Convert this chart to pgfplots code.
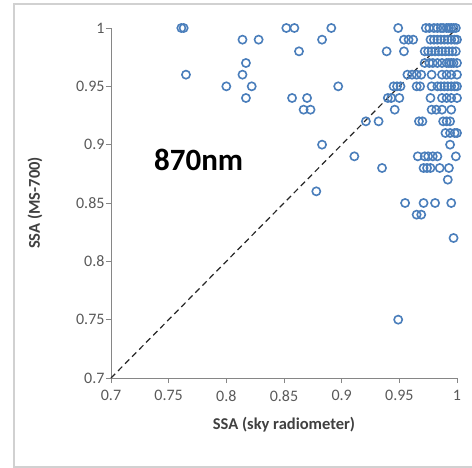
\documentclass[border=0pt]{standalone}
\usepackage{fontspec}
\setmainfont{Carlito}
\usepackage{pgfplots}
\pgfplotsset{compat=1.18}
\definecolor{ptblue}{RGB}{74,126,187}
\definecolor{axgray}{RGB}{134,134,134}
\definecolor{txtgray}{RGB}{89,89,89}
\definecolor{lblgray}{RGB}{64,64,64}
\begin{document}
\begin{tikzpicture}
\begin{axis}[
  at={(111bp,90bp)}, anchor=south west,
  width=346bp, height=350bp, scale only axis,
  xmin=0.7, xmax=1, ymin=0.7, ymax=1,
  axis lines=left,
  axis line style={-, draw=axgray, line width=0.8bp},
  xtick={0.7,0.75,0.8,0.85,0.9,0.95,1},
  ytick={0.7,0.75,0.8,0.85,0.9,0.95,1},
  xticklabels={0.7,0.75,0.8,0.85,0.9,0.95,1},
  yticklabels={0.7,0.75,0.8,0.85,0.9,0.95,1},
  tick align=outside,
  major tick length=5bp,
  tick style={draw=axgray, line width=0.8bp},
  tick label style={font=\fontsize{16bp}{18bp}\selectfont, text=txtgray},
  xticklabel style={yshift=-4bp},
  yticklabel style={xshift=2bp},
  /pgf/number format/assume math mode=true,
  xlabel={SSA (sky radiometer)},
  ylabel={SSA (MS-700)},
  label style={font=\bfseries\fontsize{16.5bp}{18bp}\selectfont, text=lblgray},
  xlabel style={at={(axis description cs:0.5,-0.134)}, anchor=center},
  ylabel style={at={(axis description cs:-0.22,0.5)}, anchor=center},
  clip=false,
]
\addplot[black!85, dash pattern=on 6bp off 4bp, line width=1.2bp] coordinates {(0.7,0.7) (1,1)};
\addplot[only marks, mark=o, mark size=4.1bp, mark options={draw=ptblue, line width=1.6bp}] coordinates {
(0.761,1.00) (0.763,1.00) (0.765,0.96) (0.800,0.95) (0.814,0.99) (0.814,0.96)
(0.817,0.97) (0.817,0.94) (0.822,0.95) (0.828,0.99) (0.852,1.00) (0.859,1.00)
(0.891,1.00) (0.883,0.99) (0.863,0.98) (0.897,0.95) (0.857,0.94) (0.870,0.94)
(0.867,0.93) (0.873,0.93) (0.883,0.90) (0.878,0.86) (0.911,0.89) (0.921,0.92)
(0.932,0.92) (0.935,0.88) (0.939,0.98) (0.940,0.94) (0.949,0.75)
(0.949,1.00) (0.973,1.00) (0.976,1.00) (0.980,1.00) (0.983,1.00) (0.986,1.00) (0.988,1.00)
(0.991,1.00) (0.993,1.00) (0.995,1.00) (0.997,1.00) (0.999,1.00)
(0.954,0.99) (0.958,0.99) (0.962,0.99) (0.977,0.99) (0.980,0.99) (0.983,0.99) (0.986,0.99)
(0.989,0.99) (0.992,0.99) (0.995,0.99) (0.998,0.99) (1.000,0.99)
(0.954,0.98) (0.972,0.98) (0.975,0.98) (0.978,0.98) (0.981,0.98) (0.984,0.98) (0.987,0.98)
(0.990,0.98) (0.993,0.98) (0.996,0.98) (0.999,0.98)
(0.972,0.97) (0.976,0.97) (0.979,0.97) (0.983,0.97) (0.987,0.97) (0.991,0.97) (0.993,0.97)
(0.995,0.97) (0.997,0.97) (1.000,0.97)
(0.957,0.96) (0.961,0.96) (0.965,0.96) (0.969,0.96) (0.978,0.96) (0.987,0.96) (0.991,0.96)
(0.995,0.96) (1.000,0.96)
(0.945,0.95) (0.948,0.95) (0.951,0.95) (0.965,0.95) (0.968,0.95) (0.978,0.95) (0.983,0.95)
(0.986,0.95) (0.989,0.95) (0.992,0.95) (0.995,0.95) (0.998,0.95) (1.000,0.95)
(0.943,0.94) (0.950,0.94) (0.977,0.94) (0.987,0.94) (0.991,0.94) (0.995,0.94) (1.000,0.94)
(0.946,0.93) (0.978,0.93) (0.982,0.93) (0.987,0.93) (0.995,0.93)
(0.967,0.92) (0.970,0.92) (0.988,0.92) (0.991,0.92) (0.994,0.92)
(0.990,0.91) (0.994,0.91) (0.998,0.91) (1.000,0.91)
(0.994,0.90)
(0.966,0.89) (0.972,0.89) (0.975,0.89) (0.979,0.89) (0.983,0.89) (0.999,0.89)
(0.971,0.88) (0.974,0.88) (0.977,0.88) (0.985,0.88) (0.993,0.88)
(0.992,0.87)
(0.955,0.85) (0.971,0.85) (0.981,0.85) (0.995,0.85)
(0.965,0.84) (0.969,0.84)
(0.997,0.82)
};
\node[font=\bfseries\fontsize{31bp}{34bp}\selectfont, text=black] at (axis cs:0.776,0.887) {870nm};
\end{axis}
\draw[black!18, line width=1.8bp] (14bp,1bp) rectangle (490bp,464bp);
\pgfresetboundingbox
\path[use as bounding box] (0,0) rectangle (472bp,468bp);
\end{tikzpicture}
\end{document}
